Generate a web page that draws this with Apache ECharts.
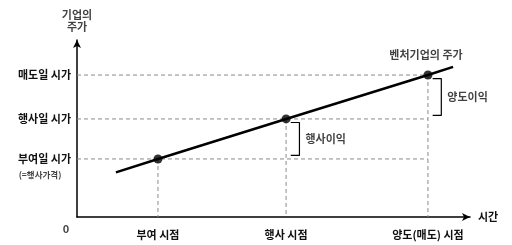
<!DOCTYPE html>
<html>
<head>
<meta charset="utf-8">
<script src="https://cdn.jsdelivr.net/npm/echarts@6/dist/echarts.min.js"></script>
<style>html,body{margin:0;padding:0;background:#fff;}#c{width:512px;height:245px;}</style>
</head>
<body>
<div id="c"></div>
<script>
// ---- data ----
const timeLabels = ["부여 시점", "행사 시점", "양도(매도) 시점"];
const times = [20.6, 53.2, 89.3];
const priceLabels = ["부여일 시가", "행사일 시가", "매도일 시가"];
const prices = [32.8, 55.4, 80.2];
const lineStart = [9.9, 25.2];
const lineEnd = [95.7, 84.8];
const gainLabels = ["행사이익", "양도이익"];
const seriesName = "벤처기업의 주가";
const yTitle = "기업의\n주가";

const FONT = '"Noto Sans CJK KR", "Noto Sans", sans-serif';
const TXT = '#111';

const linePts = [lineStart].concat(times.map((t, i) => [t, prices[i]])).concat([lineEnd]);

const series = [];
// horizontal dashed guide lines
prices.forEach(p => {
  series.push({type: 'line', data: [[0, p], [times[2], p]], symbol: 'none', silent: true,
    lineStyle: {color: '#8a8a8a', width: 1, type: [4, 3]}, z: 1});
});
// vertical dashed guide lines
times.forEach((t, i) => {
  series.push({type: 'line', data: [[t, prices[i]], [t, 0]], symbol: 'none', silent: true,
    lineStyle: {color: '#8a8a8a', width: 1, type: [4, 3]}, z: 1});
});
// main price line
series.push({type: 'line', name: seriesName, data: linePts, symbol: 'none',
  lineStyle: {color: '#000', width: 2.5}, z: 3});
// points
series.push({type: 'scatter', data: times.map((t, i) => [t, prices[i]]), symbolSize: 9,
  itemStyle: {color: '#000'}, z: 4,
  label: {show: true, formatter: p => p.dataIndex === 2 ? seriesName : '',
    position: 'top', distance: 10, offset: [-2, 0], color: TXT, fontFamily: FONT, fontSize: 11, fontWeight: 'bold'}});
// brackets
[[0, 1], [1, 2]].forEach(([a, b], k) => {
  const x0 = times[b] + 1.2, x1 = times[b] + 3.4;
  const top = prices[b] - 2, bot = prices[a] + 2;
  series.push({type: 'line', data: [[x0, top], [x1, top], [x1, bot], [x0, bot]], symbol: 'none',
    lineStyle: {color: '#000', width: 1.2}, z: 3});
  series.push({type: 'scatter', data: [[x1, (prices[a] + prices[b]) / 2]], symbolSize: 0,
    label: {show: true, formatter: gainLabels[k], position: 'right', distance: 6,
      color: TXT, fontFamily: FONT, fontSize: 11, fontWeight: 'bold'}});
});
// origin "0", sub label, y title
series.push({type: 'scatter', data: [[0, 0]], symbolSize: 0,
  label: {show: true, formatter: '0', position: 'inside', offset: [-11, 12],
    color: TXT, fontFamily: FONT, fontSize: 11, fontWeight: 'bold'}});
series.push({type: 'scatter', data: [[0, prices[0]]], symbolSize: 0,
  label: {show: true, formatter: '(=행사가격)', position: 'inside', offset: [-37, 16],
    color: TXT, fontFamily: FONT, fontSize: 8.5, fontWeight: 'bold'}});
series.push({type: 'scatter', data: [[0, 100]], symbolSize: 0,
  label: {show: true, formatter: yTitle, position: 'top', distance: 7, align: 'center', lineHeight: 12,
    color: TXT, fontFamily: FONT, fontSize: 11, fontWeight: 'bold'}});

const chart = echarts.init(document.getElementById('c'), null, {renderer: 'canvas'});
chart.setOption({
  animation: false,
  backgroundColor: '#fff',
  grid: {left: 77, right: 42, top: 40, bottom: 28, containLabel: false},
  xAxis: {
    type: 'value', min: 0, max: 100,
    name: '시간', nameLocation: 'end', nameGap: 8,
    nameTextStyle: {color: TXT, fontFamily: FONT, fontSize: 11, fontWeight: 'bold'},
    axisLine: {show: true, lineStyle: {color: '#000', width: 1.5}, symbol: ['none', 'arrow'], symbolSize: [6, 8]},
    axisTick: {show: false},
    splitLine: {show: false},
    axisLabel: {customValues: times, formatter: v => timeLabels[times.indexOf(v)] || '',
      margin: 12, color: TXT, fontFamily: FONT, fontSize: 11, fontWeight: 'bold'}
  },
  yAxis: {
    type: 'value', min: 0, max: 100,
    axisLine: {show: true, lineStyle: {color: '#000', width: 1.5}, symbol: ['none', 'arrow'], symbolSize: [6, 8]},
    axisTick: {show: false},
    splitLine: {show: false},
    axisLabel: {customValues: prices, formatter: v => priceLabels[prices.indexOf(v)] || '',
      margin: 6, color: TXT, fontFamily: FONT, fontSize: 11, fontWeight: 'bold'}
  },
  series: series
});
</script>
</body>
</html>
